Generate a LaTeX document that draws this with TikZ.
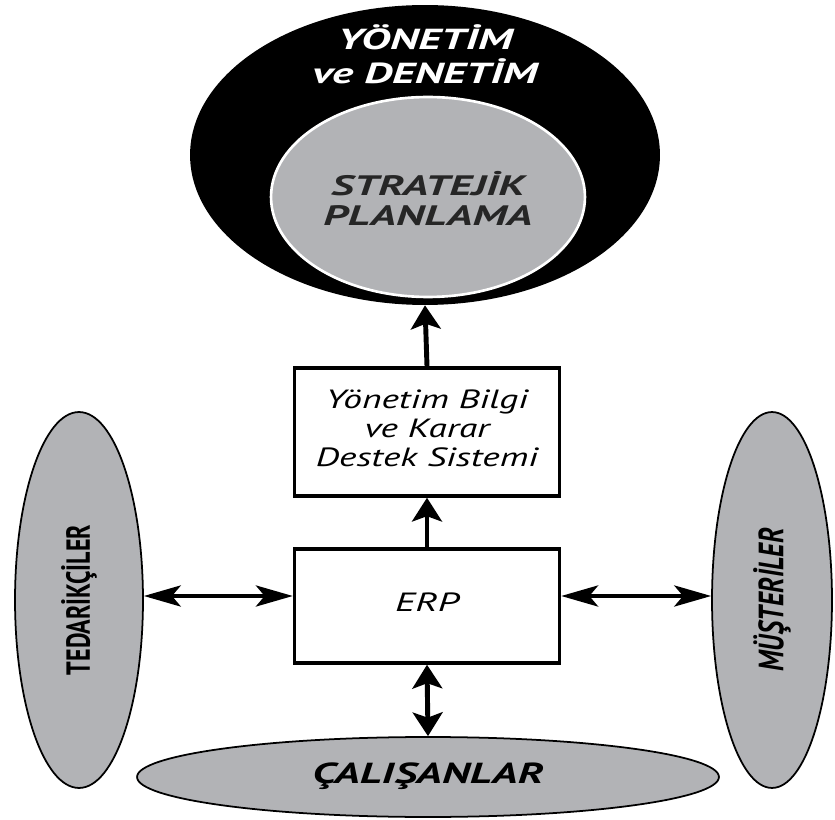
\documentclass[tikz,border=0pt]{standalone}
\usepackage{fontspec}
\setmainfont{PT Sans}
\usetikzlibrary{arrows.meta, positioning, shapes.geometric}
\definecolor{panelgray}{RGB}{178,179,182}
% the source figure is stretched sideways, so the text is too
\newcommand{\widetext}[2][1.5]{\scalebox{#1}[1]{\begin{tabular}{@{}c@{}}#2\end{tabular}}}

\begin{document}
\begin{tikzpicture}[
    x=0.02cm, y=-0.02cm,
    oval/.style={ellipse, draw=black, line width=1pt, fill=panelgray, inner sep=0pt},
    box/.style={draw, line width=2pt, fill=white, align=center, inner sep=0pt,
                minimum width=5.3cm},
    uplink/.style={line width=2.8pt, -{Stealth[length=13.5pt, width=17pt, inset=3pt]}},
    vboth/.style={line width=2.8pt, {Stealth[length=13.5pt, width=17pt, inset=3pt]}-{Stealth[length=13.5pt, width=17pt, inset=3pt]}},
    hboth/.style={line width=2.2pt, {Stealth[length=21pt, width=12pt, inset=5pt]}-{Stealth[length=21pt, width=12pt, inset=5pt]}},
  ]
  \useasboundingbox (0,0) rectangle (835,820);
  % top: management and strategy
  \node[ellipse, fill=black, minimum width=9.4cm, minimum height=6cm] (yd) at (425,155) {};
  \node[ellipse, fill=panelgray, draw=white, line width=1.5pt,
        minimum width=6.28cm, minimum height=4cm] (sp) at (428,197) {};
  \node[text=white, font=\fontsize{16.5}{18.7}\selectfont\bfseries\itshape]
    (ydtxt) at (425,59) {\widetext[1.55]{YÖNETİM\\ve DENETİM}};
  \node[text=black!85, font=\fontsize{16}{17}\selectfont\bfseries\itshape]
    (sptxt) at (428,203) {\widetext[1.58]{STRATEJİK\\PLANLAMA}};
  % boxes
  \node[box, minimum height=2.56cm, font=\fontsize{15}{16.5}\selectfont\itshape] (mis) at (427,432)
    {\widetext[1.42]{Yönetim Bilgi\\ve Karar\\Destek Sistemi}};
  \node[box, minimum height=2.28cm, font=\fontsize{15}{16.5}\selectfont\itshape] (erp) at (427,606)
    {\widetext{ERP}};
  % stakeholders
  \node[oval, minimum width=2.56cm, minimum height=7.52cm] (ted) at (79,600)
    {\rotatebox{90}{\scalebox{0.72}[1]{\fontsize{19}{20}\selectfont\bfseries TEDARİKÇİLER}}};
  \node[oval, minimum width=2.4cm, minimum height=7.52cm] (mus) at (772,600)
    {\rotatebox{90}{\scalebox{0.76}[1]{\fontsize{20}{21}\selectfont\bfseries\itshape MÜŞTERİLER}}};
  \node[oval, minimum width=11.64cm, minimum height=1.6cm] (cal) at (428,777)
    {\fontsize{16.5}{18}\selectfont\bfseries\itshape\widetext[1.52]{ÇALIŞANLAR}};
  % connectors
  \draw[uplink] (erp.north) -- (mis.south);
  \draw[uplink] (mis.north) -- (yd.south);
  \draw[hboth] (ted.east |- 0,596) -- (erp.west |- 0,596);
  \draw[hboth] (erp.east |- 0,596) -- (mus.west |- 0,596);
  \draw[vboth] (erp.south) -- (cal.north);
\end{tikzpicture}
\end{document}
